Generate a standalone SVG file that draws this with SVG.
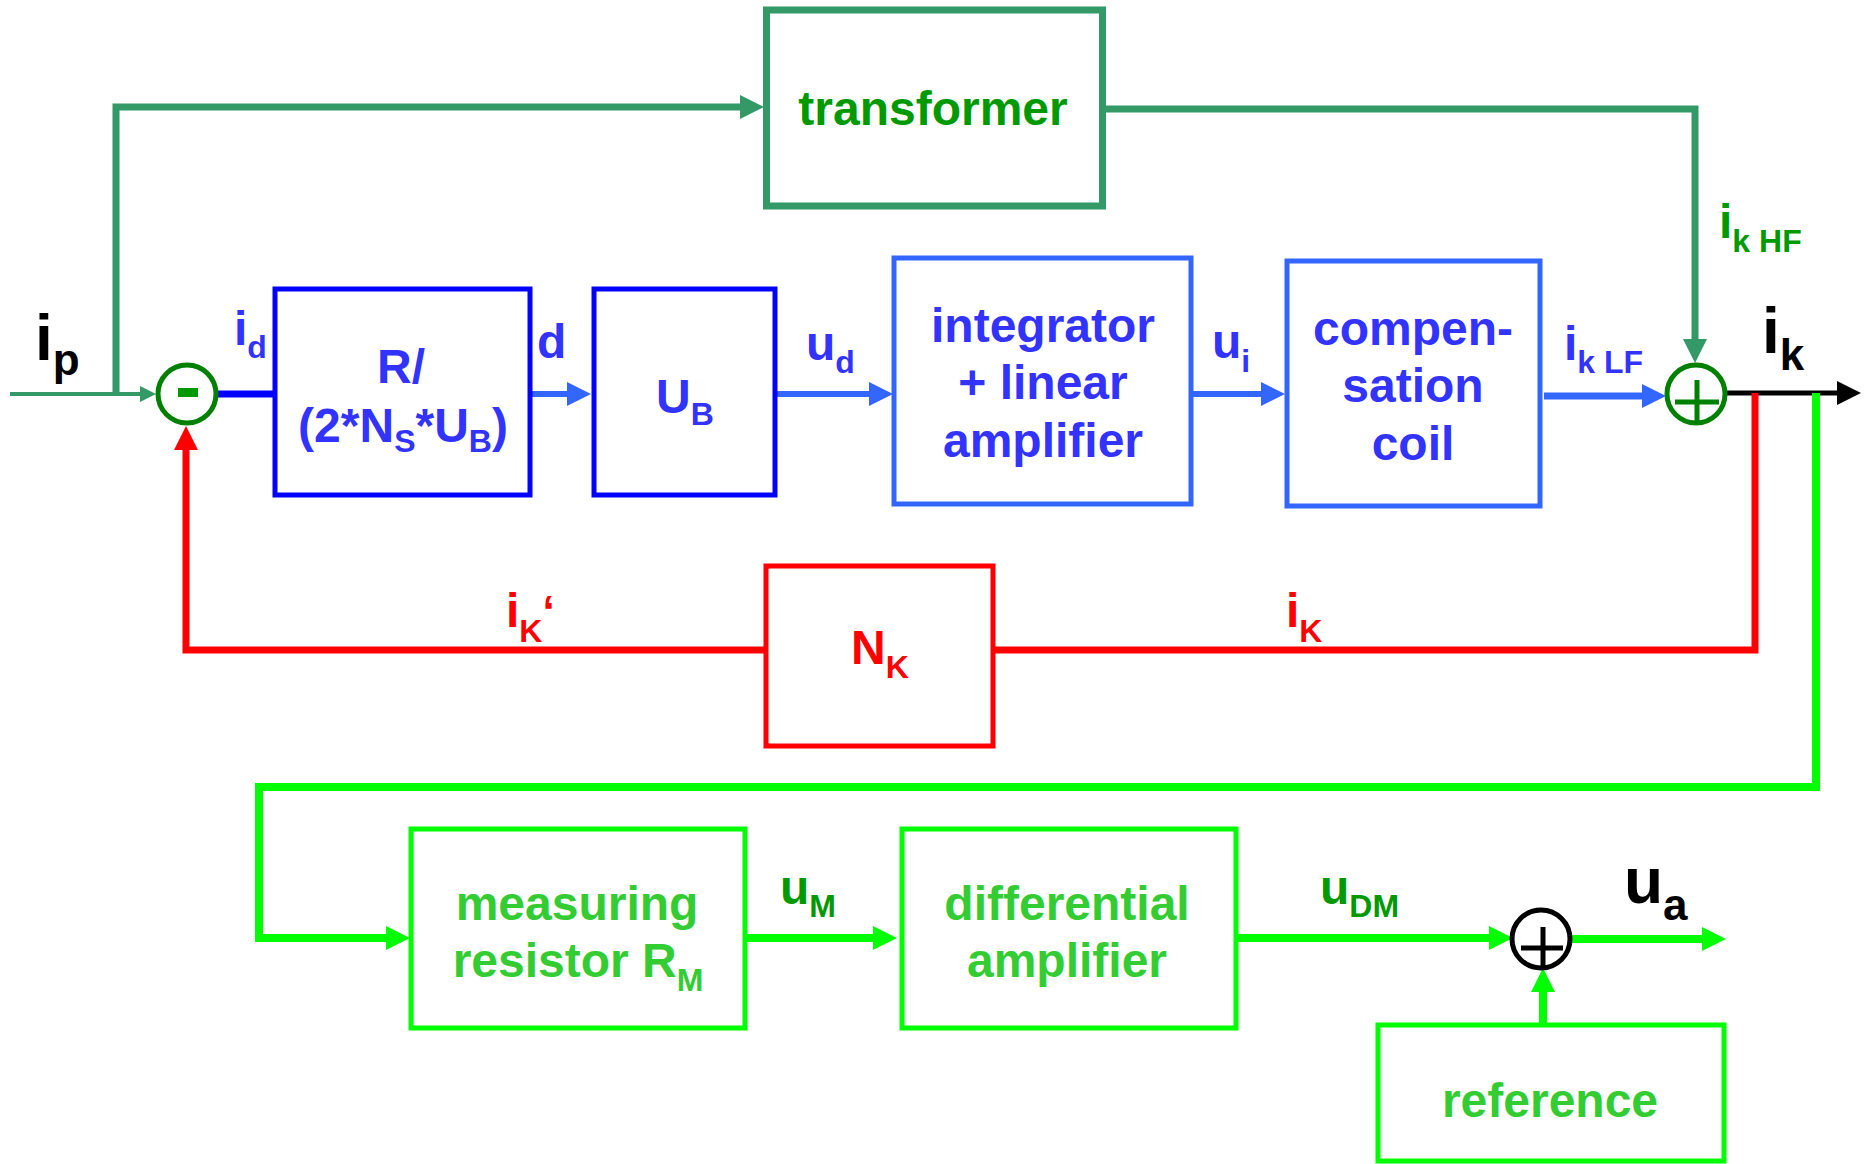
<svg xmlns="http://www.w3.org/2000/svg" width="1869" height="1164" viewBox="0 0 1869 1164">
<defs>
<style>
text{font-family:"Liberation Sans",Arial,sans-serif;font-weight:bold}
.t48{font-size:48px}
.s32{font-size:32px}
.big{font-size:64px}
.s44{font-size:44px}
.blue{fill:#3333FF}
.dg{fill:#009900}
.red{fill:#FF0000}
.lg{fill:#33CC33}
.blk{fill:#000}
.box{fill:#fff;stroke-width:5}
.ln{fill:none;stroke-linejoin:miter}
</style>
<marker id="aSG" viewBox="0 0 24 24" refX="0" refY="12" markerWidth="24" markerHeight="24" markerUnits="userSpaceOnUse" orient="auto"><path d="M0,0 L24,12 L0,24 z" fill="#339966"/></marker>
<marker id="aSGs" viewBox="0 0 16 16" refX="0" refY="8" markerWidth="16" markerHeight="16" markerUnits="userSpaceOnUse" orient="auto"><path d="M0,0 L16,8 L0,16 z" fill="#339966"/></marker>
<marker id="aB" viewBox="0 0 24 24" refX="0" refY="12" markerWidth="24" markerHeight="24" markerUnits="userSpaceOnUse" orient="auto"><path d="M0,0 L24,12 L0,24 z" fill="#3366FF"/></marker>
<marker id="aK" viewBox="0 0 24 24" refX="0" refY="12" markerWidth="24" markerHeight="24" markerUnits="userSpaceOnUse" orient="auto"><path d="M0,0 L24,12 L0,24 z" fill="#000"/></marker>
<marker id="aR" viewBox="0 0 24 24" refX="0" refY="12" markerWidth="24" markerHeight="24" markerUnits="userSpaceOnUse" orient="auto"><path d="M0,0 L24,12 L0,24 z" fill="#FF0000"/></marker>
<marker id="aG" viewBox="0 0 24 24" refX="0" refY="12" markerWidth="24" markerHeight="24" markerUnits="userSpaceOnUse" orient="auto"><path d="M0,0 L24,12 L0,24 z" fill="#00FF00"/></marker>
</defs>
<rect width="1869" height="1164" fill="#fff"/>

<g id="connectors">
<path class="ln" d="M10 394 H140" stroke="#339966" stroke-width="4" marker-end="url(#aSGs)"/>
<path class="ln" d="M116 394 V107 H740" stroke="#339966" stroke-width="7" marker-end="url(#aSG)"/>
<path class="ln" d="M1106 109 H1695 V339" stroke="#339966" stroke-width="7" marker-end="url(#aSG)"/>
<path class="ln" d="M216 394 H273" stroke="#0000FF" stroke-width="7"/>
<path class="ln" d="M532 394 H567" stroke="#3366FF" stroke-width="6" marker-end="url(#aB)"/>
<path class="ln" d="M777 394 H869" stroke="#3366FF" stroke-width="6" marker-end="url(#aB)"/>
<path class="ln" d="M1193 394 H1261" stroke="#3366FF" stroke-width="6" marker-end="url(#aB)"/>
<path class="ln" d="M1544 396 H1642" stroke="#3366FF" stroke-width="7" marker-end="url(#aB)"/>
<path class="ln" d="M1727 393 H1837" stroke="#000" stroke-width="5" marker-end="url(#aK)"/>
<path class="ln" d="M1755 393 V650 H995" stroke="#FF0000" stroke-width="7"/>
<path class="ln" d="M764 650 H186 V450" stroke="#FF0000" stroke-width="7" marker-end="url(#aR)"/>
<path class="ln" d="M1816 393 V787 H259 V938 H386" stroke="#00FF00" stroke-width="8" marker-end="url(#aG)"/>
<path class="ln" d="M747 938 H873" stroke="#00FF00" stroke-width="8" marker-end="url(#aG)"/>
<path class="ln" d="M1238 938 H1489" stroke="#00FF00" stroke-width="8" marker-end="url(#aG)"/>
<path class="ln" d="M1571 939 H1702" stroke="#00FF00" stroke-width="8" marker-end="url(#aG)"/>
<path class="ln" d="M1543 1023 V992" stroke="#00FF00" stroke-width="8" marker-end="url(#aG)"/>
</g>

<g id="transformer">
<rect x="766.5" y="10" width="336" height="196" fill="#fff" stroke="#339966" stroke-width="7"/>
<text class="t48 dg" x="933" y="125" text-anchor="middle">transformer</text>
</g>

<g id="sum-minus">
<circle cx="187" cy="394" r="29" fill="#fff" stroke="#008000" stroke-width="5"/>
<rect x="178" y="388" width="20" height="9" fill="#009900"/>
</g>

<g id="gain-R">
<rect class="box" x="275" y="289" width="255" height="206" stroke="#0000FF"/>
<text class="t48 blue" x="401" y="383" text-anchor="middle">R/</text>
<text class="t48 blue" x="403" y="442" text-anchor="middle">(2*N<tspan class="s32" dy="10">S</tspan><tspan dy="-10">*U</tspan><tspan class="s32" dy="10">B</tspan><tspan dy="-10">)</tspan></text>
</g>

<g id="UB">
<rect class="box" x="594" y="289" width="181" height="206" stroke="#0000FF"/>
<text class="t48 blue" x="685" y="413" text-anchor="middle">U<tspan class="s32" dy="12">B</tspan></text>
</g>

<g id="integrator">
<rect class="box" x="894" y="258" width="297" height="246" stroke="#3366FF"/>
<text class="t48 blue" x="1043" y="342" text-anchor="middle">integrator</text>
<text class="t48 blue" x="1043" y="399" text-anchor="middle">+ linear</text>
<text class="t48 blue" x="1043" y="457" text-anchor="middle">amplifier</text>
</g>

<g id="coil">
<rect class="box" x="1287" y="261" width="253" height="245" stroke="#3366FF"/>
<text class="t48 blue" x="1413" y="345" text-anchor="middle">compen-</text>
<text class="t48 blue" x="1413" y="402" text-anchor="middle">sation</text>
<text class="t48 blue" x="1413" y="460" text-anchor="middle">coil</text>
</g>

<g id="sum-plus-top">
<circle cx="1696" cy="394" r="29" fill="#fff" stroke="#008000" stroke-width="5"/>
<path d="M1675 402 H1719 M1697 380 V423" stroke="#008000" stroke-width="5" fill="none"/>
</g>

<g id="NK">
<rect class="box" x="766" y="566" width="227" height="180" stroke="#FF0000"/>
<text class="t48 red" x="880" y="664" text-anchor="middle">N<tspan class="s32" dy="14">K</tspan></text>
</g>

<g id="measuring">
<rect class="box" x="411" y="829" width="334" height="199" stroke="#00FF00"/>
<text class="t48 lg" x="577" y="920" text-anchor="middle">measuring</text>
<text class="t48 lg" x="578" y="977" text-anchor="middle">resistor R<tspan class="s32" dy="14">M</tspan></text>
</g>

<g id="differential">
<rect class="box" x="902" y="829" width="334" height="199" stroke="#00FF00"/>
<text class="t48 lg" x="1067" y="920" text-anchor="middle">differential</text>
<text class="t48 lg" x="1067" y="977" text-anchor="middle">amplifier</text>
</g>

<g id="sum-plus-bottom">
<circle cx="1541" cy="939" r="29" fill="#fff" stroke="#000" stroke-width="5"/>
<path d="M1521 948 H1563 M1543 927 V968" stroke="#000" stroke-width="5" fill="none"/>
</g>

<g id="reference">
<rect class="box" x="1378" y="1025" width="346" height="136" stroke="#00FF00"/>
<text class="t48 lg" x="1550" y="1117" text-anchor="middle">reference</text>
</g>

<g id="labels">
<text class="big blk" x="35" y="360">i<tspan class="s44" dy="15">p</tspan></text>
<text class="t48 blue" x="234" y="345">i<tspan class="s32" dy="13">d</tspan></text>
<text class="t48 blue" x="537" y="358">d</text>
<text class="t48 blue" x="806" y="360">u<tspan class="s32" dy="13">d</tspan></text>
<text class="t48 blue" x="1212" y="358">u<tspan class="s32" dy="14">i</tspan></text>
<text class="t48 blue" x="1564" y="360">i<tspan class="s32" dy="13">k LF</tspan></text>
<text class="t48 dg" x="1719" y="238">i<tspan class="s32" dy="14">k HF</tspan></text>
<text class="big blk" x="1762" y="353">i<tspan class="s44" dy="17">k</tspan></text>
<text class="t48 red" x="506" y="627">i<tspan class="s32" dy="15">K</tspan><tspan class="s44" dy="-15">‘</tspan></text>
<text class="t48 red" x="1286" y="627">i<tspan class="s32" dy="15">K</tspan></text>
<text class="t48 dg" x="780" y="904">u<tspan class="s32" dy="13">M</tspan></text>
<text class="t48 dg" x="1320" y="904">u<tspan class="s32" dy="13">DM</tspan></text>
<text class="big blk" x="1624" y="903">u<tspan class="s44" dy="17">a</tspan></text>
</g>
</svg>
